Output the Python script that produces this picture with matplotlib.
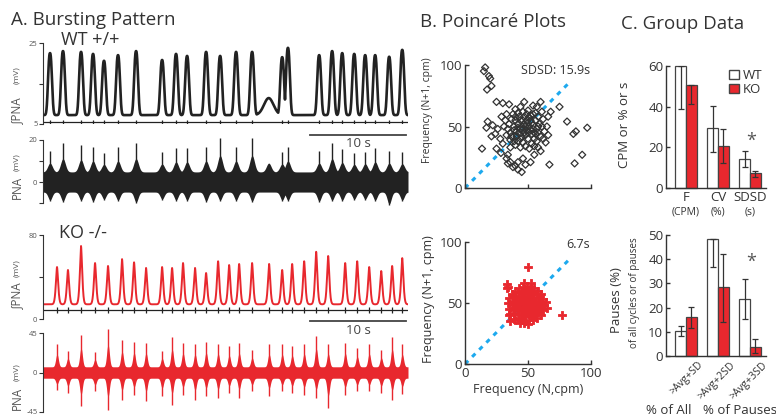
import numpy as np
import matplotlib
matplotlib.use('Agg')
import matplotlib.pyplot as plt
from matplotlib.patches import Patch

plt.rcParams['font.family'] = ['Open Sans', 'DejaVu Sans']

# ---- A. bursting pattern (burst times in s, amplitudes in mV) ----
wt_t = [0.73, 2.08, 3.96, 5.21, 6.35, 7.81, 9.69, 12.40, 13.85, 15.0,
        16.98, 18.44, 20.10, 21.77, 24.9, 25.5, 28.75, 30.1, 31.15, 32.4,
        33.54, 34.58, 36.04, 37.4]
wt_int_peak = [22.5, 23.0, 22.8, 22.3, 20.6, 22.0, 23.0, 20.8, 22.3, 21.8,
               22.8, 21.8, 22.8, 22.8, 21.5, 23.8, 22.0, 23.0, 22.5, 22.3,
               22.0, 22.0, 21.6, 23.3]
wt_raw_top = [15, 18.5, 17.6, 16.7, 14, 16.7, 18.5, 14.3, 16, 16,
              16.7, 21, 16.7, 21, 14.3, 16.7, 15, 18.5, 15.5, 14,
              14.5, 16, 15, 14.5]
wt_raw_bot = [-9, -9.5, -9, -9.5, -8.5, -9, -10, -8.5, -9, -9,
              -9.5, -9, -9, -9.5, -9, -9, -9.5, -9, -9, -8.5,
              -8.5, -9, -11, -9]
wt_hump_t, wt_hump_int, wt_hump_raw = 23.5, 11.4, 9.0
wt_int_base = 7.2
wt_raw_band = 4.8

ko_t = [1.46, 2.6, 3.96, 5.42, 6.77, 8.23, 9.48, 10.73, 12.4, 13.44,
        14.58, 15.83, 16.98, 18.23, 19.38, 20.42, 21.77, 23.54, 24.9, 25.94,
        27.19, 28.44, 29.69, 31.46, 32.71, 33.96, 35.21, 36.35, 37.4]
ko_int_peak = [49.5, 46.7, 69.5, 53.3, 50.5, 57, 54, 48.6, 49.5, 48.6,
               53.3, 48.6, 43.8, 55, 51.4, 52.4, 53.3, 52.4, 46.7, 52.4,
               55, 64, 60, 53.3, 55, 49.5, 45.7, 50.5, 58]
ko_raw_top = [32, 25, 43, 23, 49, 37, 35, 34, 25, 41,
              34, 32, 35, 33, 30, 34, 26, 32, 32, 30,
              33, 42, 33, 34, 28, 33, 26, 41, 32]
ko_raw_bot = [-20, -23.5, -38.6, -21.6, -42.4, -31, -25.4, -33, -27.3, -36.7,
              -25.4, -31, -27.3, -29.2, -23.5, -29.2, -21.6, -27.3, -21.6, -23.5,
              -25.4, -29.2, -41, -25.4, -21.6, -21.6, -23.5, -31, -24.5]
ko_int_base = 14
ko_raw_band = 6.5

# ---- B. Poincare plots (N, N+1 frequency in cpm) ----
wt_pts = [(16, 98), (15, 95), (19, 91), (20, 89), (17.5, 80), (21, 83), (25, 70), (30, 69),
          (35, 68), (13.5, 32), (25, 32), (28.5, 28.5), (34, 27), (34, 20), (36, 21), (42, 21),
          (42, 15), (48, 19), (52, 21), (67, 19), (87, 20), (93, 27), (97, 49), (88, 46),
          (86, 44), (81, 54), (75, 66), (60, 70), (54, 67), (66, 58), (65, 50), (66, 43),
          (64, 37), (22, 51), (18, 54), (21, 42), (17, 49), (38, 17), (45, 13), (40, 18),
          (33, 24), (46, 24), (55, 27), (60, 30), (62, 56), (68, 62), (57, 66), (44, 66),
          (40, 64), (29, 58), (26, 48), (24, 44), (28, 40), (30, 36), (36, 33), (58, 33),
          (63, 46), (61, 62), (47, 70), (33, 60),
          (40, 55), (42, 52), (44, 48), (46, 55), (48, 50), (50, 53), (52, 47), (54, 51),
          (56, 55), (47, 45), (45, 42), (43, 58), (49, 60), (51, 57), (53, 44), (55, 40),
          (57, 48), (59, 52), (41, 46), (39, 50), (37, 56), (36, 45), (38, 41), (42, 38),
          (46, 37), (50, 40), (53, 36), (57, 38), (60, 42), (61, 50), (58, 58), (54, 60),
          (50, 63), (46, 62), (42, 61), (38, 60), (35, 52), (34, 48), (33, 43), (36, 39),
          (40, 35), (44, 33), (48, 34), (51, 32), (55, 34), (49, 47), (47, 52), (51, 50),
          (53, 53), (45, 50), (43, 44), (41, 42), (52, 59), (55, 45), (48, 43), (50, 45),
          (44, 55), (46, 48), (52, 55), (54, 48), (39, 47), (37, 42), (56, 44), (58, 45),
          (47, 58), (49, 55), (42, 49), (40, 58), (32, 55), (31, 50), (62, 40), (56, 61),
          (44, 40), (39, 38), (58, 50)]
ko_pts = [(33, 65.5), (33, 62), (34, 63.5), (50, 79.5), (77, 40),
          (40, 50), (42, 47), (44, 52), (46, 49), (48, 51), (50, 48), (52, 50), (54, 47),
          (56, 52), (58, 49), (45, 45), (47, 43), (49, 45), (51, 44), (53, 43), (55, 45),
          (57, 44), (43, 55), (45, 56), (47, 54), (49, 56), (51, 55), (53, 57), (55, 55),
          (41, 44), (43, 41), (46, 40), (48, 39), (50, 41), (52, 39), (54, 40), (56, 41),
          (58, 43), (60, 46), (61, 50), (59, 54), (57, 57), (54, 59), (51, 60), (48, 61),
          (45, 60), (42, 58), (40, 55), (38, 52), (37, 48), (38, 44), (39, 41), (42, 38),
          (45, 36), (48, 35), (51, 36), (54, 36), (57, 38), (60, 40), (62, 44), (63, 48),
          (62, 53), (60, 57), (58, 60), (55, 62), (52, 63), (49, 64), (46, 63), (43, 62),
          (40, 60), (37, 57), (35, 54), (34, 50), (35, 45), (36, 41), (39, 37), (47, 34),
          (50, 33), (44, 34), (35, 40), (64, 51), (65, 46), (47, 47), (49, 50), (51, 47),
          (46, 52), (44, 49), (52, 53), (50, 58), (48, 44), (53, 51), (55, 49), (39, 46),
          (41, 52), (57, 47), (59, 51), (45, 58), (42, 44), (40, 36), (38, 56), (36, 35),
          (52, 66), (47, 66)]
identity_end = (84, 87)

# ---- C. group data ----
cats = ['F', 'CV', 'SDSD']
units = ['(CPM)', '(%)', '(s)']
wt_vals = [60, 29.5, 14.3]
wt_lo = [21, 12, 3.8]
wt_hi = [0, 11, 3.9]
ko_vals = [50.5, 20.8, 7.2]
ko_lo = [9, 8.5, 1.6]
ko_hi = [0, 8.2, 1.2]

pause_cats = ['>Avg+SD', '>Avg+2SD', '>Avg+3SD']
wt_pause = [10.3, 48.3, 23.5]
wt_pause_lo = [2, 11.7, 8.2]
wt_pause_hi = [2.2, 0, 8.3]
ko_pause = [16.1, 28.4, 3.9]
ko_pause_lo = [4.4, 14.2, 2.8]
ko_pause_hi = [4.3, 13.7, 3.1]

RED = '#e8282e'
BLUE = '#1da9ee'
INK = '#333333'
GREY = '#555555'

W, H = 776, 418


def box(l, t, r, b):
    return [l / W, 1 - b / H, (r - l) / W, (b - t) / H]


def ftext(x, y, s, **kw):
    fig.text(x / W, 1 - y / H, s, **kw)


def bursts(t, times, peaks, base, s, p=2):
    y = np.full_like(t, base, dtype=float)
    for c, pk in zip(times, peaks):
        y = np.maximum(y, base + (pk - base) * np.exp(-np.abs((t - c) / s) ** p))
    return y


def trace_axes(ax, ylim, ticks, labels):
    ax.set_xlim(0, 38)
    ax.set_ylim(*ylim)
    for s in ['top', 'right', 'bottom']:
        ax.spines[s].set_visible(False)
    ax.spines['left'].set_color(INK)
    ax.spines['left'].set_linewidth(0.8)
    ax.set_xticks([])
    ax.set_yticks(ticks)
    ax.set_yticklabels(labels)
    ax.tick_params(axis='y', direction='out', length=3, width=0.8, colors=INK,
                   labelsize=5.5, labelcolor=GREY, pad=1)
    ax.patch.set_visible(False)


fig = plt.figure(figsize=(W / 100, H / 100), dpi=100)
t = np.linspace(0, 38, 3801)

# WT integrated
ax = fig.add_axes(box(43, 43, 408, 124))
y = bursts(t, wt_t, wt_int_peak, wt_int_base, 0.26, 2.5)
y = np.maximum(y, bursts(t, [wt_hump_t], [wt_hump_int], wt_int_base, 0.7))
ax.plot(t, y, color='#222222', lw=1.9)
ax.axhline(5.4, color='#222222', lw=0.9)
ax.vlines(wt_t, 4.9, 6.1, color='#222222', lw=0.9)
trace_axes(ax, (5, 25), [5, 15, 25], ['5', '', '25'])
ax.plot([27.8, 37.8], [2.3, 2.3], color='#444444', lw=1.3, clip_on=False)
ax.text(32.8, 0.3, '10 s', ha='center', va='center', fontsize=9.5, color='#444444')

# WT raw
ax = fig.add_axes(box(43, 140, 408, 203))
hi = bursts(t, wt_t + [wt_hump_t], [0.6 * v for v in wt_raw_top] + [wt_hump_raw],
            wt_raw_band, 0.35)
lo = -bursts(t, wt_t, [-0.95 * v for v in wt_raw_bot], wt_raw_band, 0.3)
ax.fill_between(t, lo, hi, color='#222222', lw=0)
ax.vlines(wt_t, wt_raw_bot, wt_raw_top, color='#222222', lw=1, clip_on=False)
trace_axes(ax, (-10, 20), [-10, 0, 10, 20], ['', '0', '', '20'])

# KO integrated
ax = fig.add_axes(box(43, 235, 408, 319))
y = bursts(t, ko_t, ko_int_peak, ko_int_base, 0.17, 1.6)
ax.plot(t, y, color=RED, lw=1.4)
ax.axhline(8.6, color='#222222', lw=0.9)
ax.vlines(ko_t, 6.0, 11.2, color='#222222', lw=0.9)
trace_axes(ax, (0, 80), [0, 40, 80], ['0', '', '80'])
ax.plot([27.8, 37.8], [-1.9, -1.9], color='#444444', lw=1.3, clip_on=False)
ax.text(32.8, -10.5, '10 s', ha='center', va='center', fontsize=9.5, color='#444444')

# KO raw
ax = fig.add_axes(box(43, 333, 408, 412))
hi = bursts(t, ko_t, [0.65 * v for v in ko_raw_top], ko_raw_band, 0.2)
lo = -bursts(t, ko_t, [-0.65 * v for v in ko_raw_bot], ko_raw_band, 0.2)
ax.fill_between(t, lo, hi, color=RED, lw=0)
ax.vlines(ko_t, ko_raw_bot, ko_raw_top, color=RED, lw=1, clip_on=False)
trace_axes(ax, (-45, 45), [-45, 0, 45], ['-45', '0', '45'])

ftext(11, 25, 'A. Bursting Pattern', fontsize=13.5, color=INK, va='baseline')
ftext(61, 45, 'WT +/+', fontsize=13, color=INK, va='baseline')
ftext(59, 238, 'KO -/-', fontsize=13, color=INK, va='baseline')
for big, small, yb, ys in [('\u222bPNA', '(mV)', 110, 75), ('PNA', '(mV)', 187, 162),
                           ('\u222bPNA', '(mV)', 295, 268), ('PNA', '(mV)', 398, 372)]:
    ftext(17, yb, big, fontsize=8.5, color=GREY, rotation=90, ha='center', va='center')
    ftext(17, ys, small, fontsize=6, color=GREY, rotation=90, ha='center', va='center')


# ---- B ----
def poincare_axes(ax, xlabels):
    ax.set_xlim(0, 100)
    ax.set_ylim(0, 100)
    for s in ['top', 'right']:
        ax.spines[s].set_visible(False)
    for s in ['left', 'bottom']:
        ax.spines[s].set_color(INK)
        ax.spines[s].set_linewidth(1)
    ax.set_xticks([0, 50, 100])
    ax.set_yticks([0, 50, 100])
    if not xlabels:
        ax.set_xticklabels([])
    ax.tick_params(direction='in', length=3, width=1, colors=INK, labelsize=9.5,
                   labelcolor=INK, pad=2)
    ax.patch.set_visible(False)


ax = fig.add_axes(box(465, 65, 591, 188))
ax.plot([0, identity_end[0]], [0, identity_end[1]], color=BLUE, lw=2.2,
        dashes=(1.5, 1.8), zorder=1)
ax.scatter([p[0] for p in wt_pts], [p[1] for p in wt_pts], marker='D', s=13,
           facecolors='none', edgecolors='#333333', linewidths=0.9, zorder=2, clip_on=False)
poincare_axes(ax, False)

ax = fig.add_axes(box(465, 242, 591, 364))
ax.plot([0, identity_end[0]], [0, identity_end[1]], color=BLUE, lw=2.2,
        dashes=(1.5, 1.8), zorder=1)
ax.scatter([p[0] for p in ko_pts], [p[1] for p in ko_pts], marker='P', s=30,
           color=RED, edgecolors=RED, linewidths=0.6, zorder=2, clip_on=False)
poincare_axes(ax, True)

ftext(420, 27, 'B. Poincar\u00e9 Plots', fontsize=13.5, color=INK, va='baseline')
ftext(590, 71, 'SDSD: 15.9s', fontsize=9, color=INK, ha='right', va='center')
ftext(590, 245, '6.7s', fontsize=9, color=INK, ha='right', va='center')
ftext(427, 110, 'Frequency (N+1, cpm)', fontsize=7.5, color=INK, rotation=90,
      ha='center', va='center')
ftext(428, 299, 'Frequency (N+1, cpm)', fontsize=9, color=INK, rotation=90,
      ha='center', va='center')
ftext(528, 389, 'Frequency (N,cpm)', fontsize=9, color=INK, ha='center', va='center')


# ---- C ----
def bar_axes(ax, ymax, step):
    ax.set_xlim(-0.625, 2.5)
    ax.set_ylim(0, ymax)
    for s in ['top', 'right']:
        ax.spines[s].set_visible(False)
    for s in ['left', 'bottom']:
        ax.spines[s].set_color(INK)
        ax.spines[s].set_linewidth(1)
    ax.set_yticks(np.arange(0, ymax + 1, step))
    ax.tick_params(axis='y', direction='in', length=3, width=1, colors=INK,
                   labelsize=9.5, pad=2)
    ax.patch.set_visible(False)


def draw_bars(ax, wv, wlo, whi, kv, klo, khi):
    x = np.arange(len(wv))
    ekw = dict(ecolor=INK, elinewidth=0.9, capsize=2, capthick=0.9)
    ax.bar(x - 0.17, wv, 0.32, color='white', edgecolor='#444444', lw=0.9,
           yerr=[wlo, whi], error_kw=ekw, clip_on=False)
    ax.bar(x + 0.17, kv, 0.32, color=RED, edgecolor='#444444', lw=0.9,
           yerr=[klo, khi], error_kw=ekw, clip_on=False)


ax = fig.add_axes(box(666, 66, 766, 188))
draw_bars(ax, wt_vals, wt_lo, wt_hi, ko_vals, ko_lo, ko_hi)
bar_axes(ax, 60, 20)
ax.set_xticks(range(3))
ax.set_xticklabels(cats, fontsize=9.5, color=INK)
ax.tick_params(axis='x', length=0, pad=2)
for i, u in enumerate(units):
    ax.text(i, -0.2, u, transform=ax.get_xaxis_transform(), ha='center', va='center',
            fontsize=7.5, color=INK)
ax.text(2.05, 23, '*', ha='center', va='center', fontsize=13, color=GREY)
ax.legend(handles=[Patch(facecolor='white', edgecolor='#444444', label='WT'),
                   Patch(facecolor=RED, edgecolor='#444444', label='KO')],
          loc='upper right', bbox_to_anchor=(1.04, 1.04), frameon=False, fontsize=9.5,
          handlelength=0.7, handleheight=0.7, handletextpad=0.3, labelspacing=0.1,
          borderpad=0.1, labelcolor=INK)

ax = fig.add_axes(box(666, 235, 766, 356))
draw_bars(ax, wt_pause, wt_pause_lo, wt_pause_hi, ko_pause, ko_pause_lo, ko_pause_hi)
bar_axes(ax, 50, 10)
ax.set_xticks([])
for i, c in enumerate(pause_cats):
    ax.text(i + 0.36, -0.03, c, transform=ax.get_xaxis_transform(), rotation=45,
            rotation_mode='anchor', ha='right', va='top', fontsize=7.5, color=INK)
ax.text(2.05, 39, '*', ha='center', va='center', fontsize=13, color=GREY)

ftext(621, 29, 'C. Group Data', fontsize=13.5, color=INK, va='baseline')
ftext(624, 125, 'CPM or % or s', fontsize=9.5, color=INK, rotation=90, ha='center', va='center')
ftext(617, 300, 'Pauses (%)', fontsize=9.5, color=INK, rotation=90, ha='center', va='center')
ftext(634, 293, 'of all cycles or of pauses', fontsize=7, color=INK, rotation=90,
      ha='center', va='center')
ftext(669, 411, '% of All', fontsize=9.5, color=INK, ha='center', va='center')
ftext(740, 411, '% of Pauses', fontsize=9.5, color=INK, ha='center', va='center')

fig.savefig('out.png', dpi=100)
